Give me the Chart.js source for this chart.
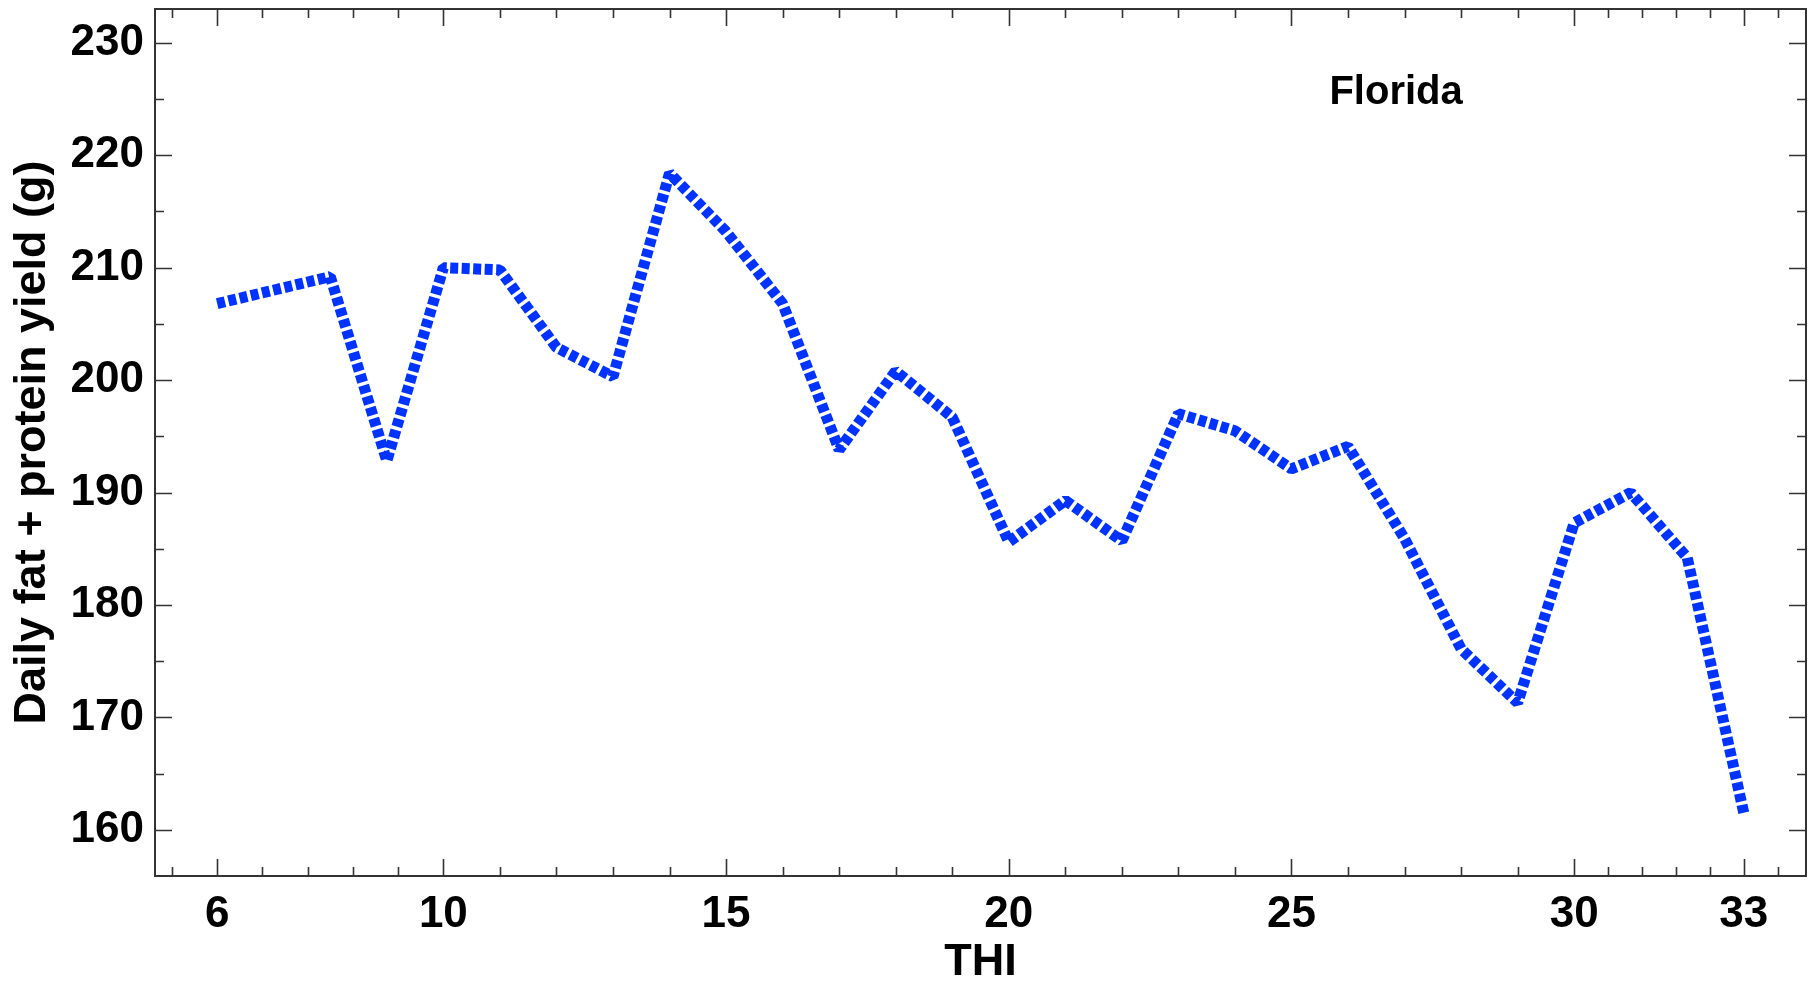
<!DOCTYPE html>
<html>
<head>
<meta charset="utf-8">
<title>Florida THI</title>
<script src="https://cdn.jsdelivr.net/npm/chart.js@4.4.1/dist/chart.umd.min.js"></script>
<style>
  html, body { margin: 0; padding: 0; background: #fff; }
  #wrap { width: 1816px; height: 981px; position: relative; }
</style>
</head>
<body>
<div id="wrap"><canvas id="thiChart"></canvas></div>
<script>
// data
const thiValues = [6, 8, 9, 10, 11, 12, 13, 14, 15, 16, 17, 18, 19, 20, 21, 22, 23, 24, 25, 26, 27, 28, 29, 30, 31, 32, 33];
const yieldValues = [206.8, 209.2, 192.8, 210.0, 209.8, 202.9, 200.3, 218.4, 213.2, 206.8, 193.8, 200.8, 196.7, 185.6, 189.3, 185.7, 197.0, 195.5, 192.1, 194.1, 185.9, 176.1, 171.3, 187.3, 190.0, 184.2, 161.5];

const xMajorTicks = [6, 10, 15, 20, 25, 30, 33];
const xMinorTicks = [5.2, 6.8, 7.6, 8.4, 9.2, 11, 12, 13, 14, 16, 17, 18, 19, 21, 22, 23, 24, 26, 27, 28, 29, 30.6, 31.2, 31.8, 32.4, 33.6];
const yMajorTicks = [160, 170, 180, 190, 200, 210, 220, 230];
const yMinorTicks = [165, 175, 185, 195, 205, 215, 225];

const panelLabel = 'Florida';

const FONT = 'Liberation Sans, Arial, Helvetica, sans-serif';

// box with inward ticks on all four sides
const framePlugin = {
    id: 'frameTicks',
    afterDraw(chart) {
        const ctx = chart.ctx;
        const a = chart.chartArea;
        const xs = chart.scales.x;
        const ys = chart.scales.y;
        ctx.save();
        ctx.strokeStyle = '#333';
        ctx.lineWidth = 2;
        ctx.strokeRect(a.left, a.top, a.right - a.left, a.bottom - a.top);

        ctx.lineWidth = 1.6;
        ctx.beginPath();
        function xTick(v, len) {
            const px = Math.round(xs.getPixelForValue(v)) + 0.5;
            ctx.moveTo(px, a.bottom); ctx.lineTo(px, a.bottom - len);
            ctx.moveTo(px, a.top); ctx.lineTo(px, a.top + len);
        }
        function yTick(v, len) {
            const py = Math.round(ys.getPixelForValue(v)) + 0.5;
            ctx.moveTo(a.left, py); ctx.lineTo(a.left + len, py);
            ctx.moveTo(a.right, py); ctx.lineTo(a.right - len, py);
        }
        xMajorTicks.forEach(v => xTick(v, 17));
        xMinorTicks.forEach(v => xTick(v, 9));
        yMajorTicks.forEach(v => yTick(v, 17));
        yMinorTicks.forEach(v => yTick(v, 9));
        ctx.stroke();

        // panel label
        ctx.fillStyle = '#000';
        ctx.font = 'bold 40px ' + FONT;
        ctx.textAlign = 'center';
        ctx.textBaseline = 'middle';
        ctx.fillText(panelLabel, xs.getPixelForValue(26.85), ys.getPixelForValue(225.5));
        ctx.restore();
    }
};

const ctxThi = document.getElementById('thiChart').getContext('2d');
const thiChart = new Chart(ctxThi, {
    type: 'line',
    data: {
        datasets: [{
            label: 'Florida',
            data: thiValues.map((x, i) => ({ x: x, y: yieldValues[i] })),
            borderColor: '#0033ff',
            borderWidth: 11,
            borderDash: [8, 3.5],
            borderCapStyle: 'butt',
            borderJoinStyle: 'bevel',
            pointRadius: 0,
            tension: 0,
            fill: false
        }]
    },
    options: {
        responsive: true,
        maintainAspectRatio: false,
        animation: false,
        layout: { padding: { top: 9, right: 10, left: 0, bottom: 0 } },
        plugins: {
            legend: { display: false },
            tooltip: { enabled: false }
        },
        scales: {
            x: {
                type: 'linear',
                min: 4.9,
                max: 34.1,
                afterBuildTicks: s => { s.ticks = xMajorTicks.map(v => ({ value: v })); },
                afterFit: s => {
                    s.height = 105;
                    s.paddingLeft = 0;
                    s.paddingRight = 0;
                },
                grid: { display: false, drawTicks: false },
                border: { display: false },
                ticks: {
                    color: '#000',
                    padding: 12,
                    maxRotation: 0,
                    autoSkip: false,
                    font: { family: FONT, size: 44, weight: 'bold' }
                },
                title: {
                    display: true,
                    text: 'THI',
                    color: '#000',
                    padding: { top: 0, bottom: 0 },
                    font: { family: FONT, size: 45, weight: 'bold', lineHeight: 0.8 }
                }
            },
            y: {
                min: 155.9,
                max: 233,
                afterBuildTicks: s => { s.ticks = yMajorTicks.map(v => ({ value: v })); },
                afterFit: s => {
                    s.width = 155;
                    s.paddingTop = 0;
                    s.paddingBottom = 0;
                },
                grid: { display: false, drawTicks: false },
                border: { display: false },
                ticks: {
                    color: '#000',
                    padding: 11,
                    autoSkip: false,
                    font: { family: FONT, size: 44, weight: 'bold' }
                },
                title: {
                    display: true,
                    text: 'Daily fat + protein yield (g)',
                    color: '#000',
                    padding: { top: 6, bottom: 4 },
                    font: { family: FONT, size: 45, weight: 'bold', lineHeight: 1.2 }
                }
            }
        }
    },
    plugins: [framePlugin]
});
</script>
</body>
</html>
